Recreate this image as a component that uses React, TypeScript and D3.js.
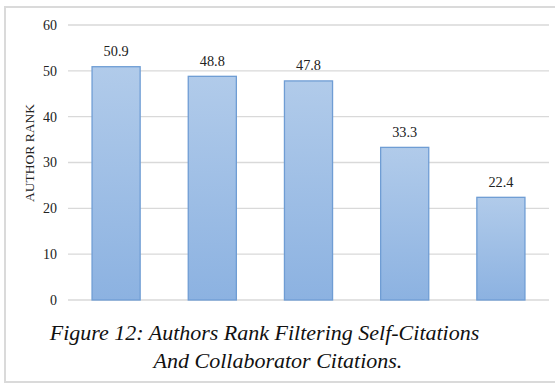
import React from "react";
import * as d3 from "d3";

const categories = ["A", "B", "C", "D", "E"];
const values = [50.9, 48.8, 47.8, 33.3, 22.4];
const yTicks = [0, 10, 20, 30, 40, 50, 60];
const yTitle = "AUTHOR RANK";
const captionLines = [
  "Figure 12: Authors Rank Filtering Self-Citations",
  "And Collaborator Citations.",
];

const W = 555;
const H = 384;
const plot = { left: 68, right: 549, top: 25, bottom: 300 };
const serif = "Liberation Serif";

export default function App() {
  const x = d3
    .scaleBand<string>()
    .domain(categories)
    .range([plot.left, plot.right])
    .paddingInner(0.5)
    .paddingOuter(0.25);
  const y = d3.scaleLinear().domain([0, 60]).range([plot.bottom, plot.top]);

  // caption lines are each centred on their own column
  const captionX = [264.5, 278];
  const captionY = [340, 368];

  return (
    <svg
      width={W}
      height={H}
      style={{ position: "absolute", left: 0, top: 0, background: "#fff" }}
    >
      <defs>
        <linearGradient id="barFill" x1="0" y1="0" x2="0" y2="1">
          <stop offset="0%" stopColor="#b1cbea" />
          <stop offset="100%" stopColor="#8cb2e1" />
        </linearGradient>
      </defs>
      <rect x={5} y={7} width={560} height={375} fill="#fff" stroke="#dadada" strokeWidth={2} />

      {yTicks.map((t) => (
        <g key={t}>
          <line x1={plot.left} x2={plot.right} y1={y(t)} y2={y(t)} stroke="#d9d9d9" strokeWidth={1.3} />
          <text
            x={57}
            y={y(t)}
            dy="0.35em"
            textAnchor="end"
            style={{ fontFamily: serif, fontSize: 14 }}
            fill="#222"
          >
            {t}
          </text>
        </g>
      ))}

      <text
        transform={`translate(34,153) rotate(-90)`}
        textAnchor="middle"
        style={{ fontFamily: serif, fontSize: 13.5 }}
        fill="#222"
      >
        {yTitle}
      </text>

      {categories.map((c, i) => (
        <g key={c}>
          <rect
            x={x(c)!}
            y={y(values[i])}
            width={x.bandwidth()}
            height={y(0) - y(values[i])}
            fill="url(#barFill)"
            stroke="#6f9dd4"
            strokeWidth={1.3}
          />
          <text
            x={x(c)! + x.bandwidth() / 2}
            y={y(values[i]) - 10.5}
            textAnchor="middle"
            style={{ fontFamily: serif, fontSize: 14.3 }}
            fill="#222"
          >
            {values[i]}
          </text>
        </g>
      ))}

      {captionLines.map((line, i) => (
        <text
          key={i}
          x={captionX[i]}
          y={captionY[i]}
          textAnchor="middle"
          style={{ fontFamily: serif, fontStyle: "italic", fontSize: 22 }}
          fill="#111"
        >
          {line}
        </text>
      ))}
    </svg>
  );
}
